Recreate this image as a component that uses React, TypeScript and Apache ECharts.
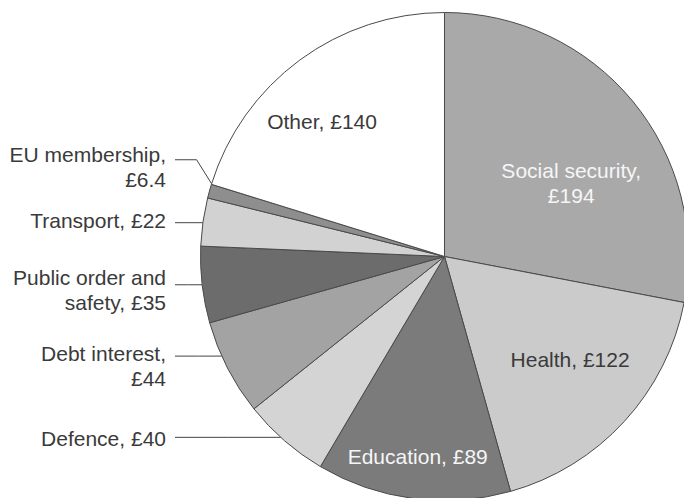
import React, { useEffect, useRef } from 'react';
import * as echarts from 'echarts';

// ---- data ----
const categories = [
  'Social security',
  'Health',
  'Education',
  'Defence',
  'Debt interest',
  'Public order and safety',
  'Transport',
  'EU membership',
  'Other',
];
const values = [194, 122, 89, 40, 44, 35, 22, 6.4, 140];
const labelTexts = [
  'Social security,\n£194',
  'Health, £122',
  'Education, £89',
  'Defence, £40',
  'Debt interest,\n£44',
  'Public order and\nsafety, £35',
  'Transport, £22',
  'EU membership,\n£6.4',
  'Other, £140',
];

// ---- styles ----
const colors = ['#a9a9a9', '#cbcbcb', '#7b7b7b', '#d4d4d4', '#a3a3a3', '#6c6c6c', '#d2d2d2', '#8e8e8e', '#ffffff'];
const textColors = ['#f6f6f6', '#3a3a3a', '#f6f6f6', '#3a3a3a', '#3a3a3a', '#3a3a3a', '#3a3a3a', '#3a3a3a', '#3a3a3a'];
const isInside = [true, true, true, false, false, false, false, false, true];
const angleAdjust = [9.5, -3.1, 0.2, 1.2, 3.1, 0, -0.2, 1.8, -5.8];
const radiusFactor = [0.6, 0.667, 0.826, 1, 1, 1, 1, 1, 0.747];
const textDy = [0, 0, 0, 1, 9.5, 5.5, -2, 7, 0];

const CX = 444.5;
const CY = 256.5;
const R = 244;
const LABEL_RIGHT = 166;
const LINE_END = 175;

const total = values.reduce((a, b) => a + b, 0);
const midAngles: number[] = [];
{
  let acc = 0;
  values.forEach((v) => {
    const span = (v / total) * 360;
    midAngles.push(acc + span / 2);
    acc += span;
  });
}
const polar = (deg: number, r: number) => {
  const a = (deg * Math.PI) / 180;
  return [CX + r * Math.sin(a), CY - r * Math.cos(a)];
};

export default function App() {
  const ref = useRef<HTMLDivElement>(null);
  useEffect(() => {
    if (!ref.current) return;
    const chart = echarts.init(ref.current, undefined, { renderer: 'svg' });
    chart.setOption({
      animation: false,
      backgroundColor: '#ffffff',
      series: [
        {
          type: 'pie',
          center: [CX, CY],
          radius: R,
          startAngle: 90,
          clockwise: true,
          avoidLabelOverlap: false,
          silent: true,
          itemStyle: { borderColor: '#4a4a4a', borderWidth: 1 },
          label: {
            show: true,
            formatter: (p: any) => labelTexts[p.dataIndex],
            fontSize: 21,
            fontFamily: '"Liberation Sans", Arial, sans-serif',
            lineHeight: 25,
          },
          labelLine: {
            show: true,
            length: 10,
            length2: 20,
            lineStyle: { color: '#444444', width: 1 },
          },
          data: categories.map((name, i) => ({
            name,
            value: values[i],
            itemStyle: { color: colors[i] },
            label: { position: isInside[i] ? 'inside' : 'outside', color: textColors[i] },
            labelLine: { show: !isInside[i] },
          })),
          labelLayout: (params: any) => {
            const i = params.dataIndex;
            const ang = midAngles[i] + angleAdjust[i];
            if (isInside[i]) {
              const [x, y] = polar(ang, R * radiusFactor[i]);
              return { x, y, align: 'center', verticalAlign: 'middle' };
            }
            const [ex, ey] = polar(ang, R);
            let pts: number[][];
            let ly = ey;
            if (i === 7) {
              ly = ey - 24;
              pts = [[ex, ey], [ex - 15, ly], [LINE_END, ly]];
            } else {
              pts = [[ex, ey], [(ex + LINE_END) / 2, ey], [LINE_END, ey]];
            }
            return {
              x: LABEL_RIGHT,
              y: ly + textDy[i],
              align: 'right',
              verticalAlign: 'middle',
              labelLinePoints: pts,
            };
          },
        },
      ],
    });
    return () => chart.dispose();
  }, []);
  return (
    <div
      ref={ref}
      style={{ position: 'absolute', left: 0, top: 0, width: 684, height: 498, background: '#fff' }}
    />
  );
}
